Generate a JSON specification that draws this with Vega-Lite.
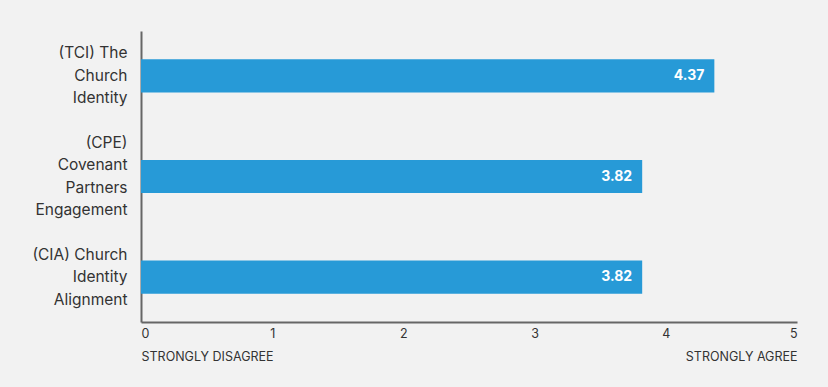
{
  "$schema": "https://vega.github.io/schema/vega-lite/v6.json",
  "width": 656,
  "height": 291,
  "autosize": {"type": "none"},
  "padding": {"left": 141, "top": 31, "right": 31, "bottom": 65},
  "background": "#f2f2f2",
  "config": {"view": {"stroke": null}, "font": "Inter"},
  "data": {
    "values": [
      {"measure": "(TCI) The|Church|Identity", "score": 4.37},
      {"measure": "(CPE)|Covenant|Partners|Engagement", "score": 3.82},
      {"measure": "(CIA) Church|Identity|Alignment", "score": 3.82}
    ]
  },
  "encoding": {
    "y": {
      "field": "measure",
      "type": "nominal",
      "sort": null,
      "scale": {"paddingInner": 0.67, "paddingOuter": 0.28},
      "axis": {
        "title": null,
        "labelExpr": "split(datum.label, '|')",
        "labelFontSize": 15.5,
        "labelLineHeight": 22.5,
        "labelPadding": 14,
        "labelBaseline": "middle",
        "labelOffset": {"condition": {"test": "indexof(datum.value, '(CPE)') == 0", "value": -34}, "value": -22.5},
        "ticks": false,
        "domainColor": "#666666",
        "domainWidth": 2,
        "labelColor": "#333333",
        "labelLimit": 200
      }
    },
    "x": {
      "field": "score",
      "type": "quantitative",
      "scale": {"domain": [0, 5]},
      "axis": {
        "title": null,
        "values": [0, 1, 2, 3, 4, 5],
        "grid": false,
        "ticks": false,
        "labelFlush": true,
        "labelOverlap": false,
        "labelExpr": "datum.value == 0 ? ['0', 'STRONGLY DISAGREE'] : datum.value == 5 ? ['5', 'STRONGLY AGREE'] : datum.label",
        "labelFontSize": 12.5,
        "labelLineHeight": 23,
        "labelPadding": 5,
        "labelColor": "#333333",
        "domainColor": "#666666",
        "domainWidth": 2
      }
    }
  },
  "layer": [
    {"mark": {"type": "bar", "color": "#279ad7"}},
    {
      "mark": {"type": "text", "align": "right", "dx": -10, "color": "white", "fontWeight": "bold", "fontSize": 14},
      "encoding": {"text": {"field": "score", "type": "quantitative", "format": ".2f"}}
    }
  ]
}
